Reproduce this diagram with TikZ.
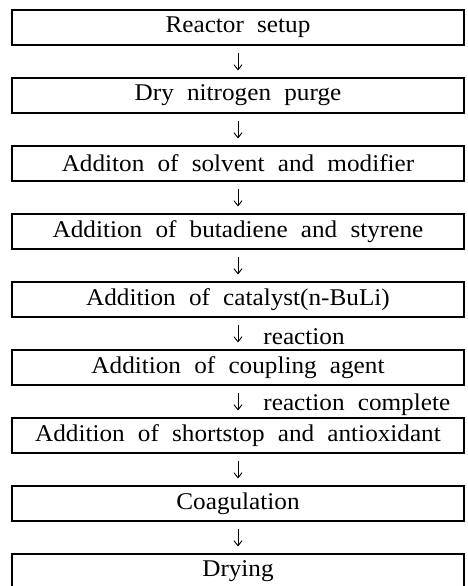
\documentclass[tikz,border=0pt]{standalone}
\usepackage{fontspec}
\setmainfont[FakeStretch=1.05, WordSpace=2.1]{Liberation Serif}
\usetikzlibrary{arrows.meta}

\begin{document}
\begin{tikzpicture}[x=1pt, y=-1pt,
    etape/.style={draw, line width=1.1pt, minimum width=452pt, minimum height=35pt, inner sep=0pt, font=\fontsize{24}{28}\selectfont},
    fleche/.style={line width=0.9pt, -{Straight Barb[length=5pt, width=8pt]}, shorten <=7pt, shorten >=7pt},
    remarque/.style={right, xshift=25pt, yshift=-3pt, inner sep=0pt, font=\fontsize{24}{28}\selectfont}]
                \useasboundingbox (0,0) rectangle (468,586);
                \clip (0,0) rectangle (468,586);

                \node[etape] (e1) at (238, 27.5) {Reactor setup};
                \node[etape] (e2) at (238, 95.5) {Dry nitrogen purge};
                \node[etape] (e3) at (238,163.5) {Additon of solvent and modifier};
                \node[etape] (e4) at (238,231.5) {Addition of butadiene and styrene};
                \node[etape] (e5) at (238,299.5) {Addition of catalyst(n-BuLi)};
                \node[etape] (e6) at (238,367.5) {Addition of coupling agent};
                \node[etape] (e7) at (238,435.5) {Addition of shortstop and antioxidant};
                \node[etape] (e8) at (238,503.5) {Coagulation};
                \node[etape] (e9) at (238,571.5) {Drying};

                \draw[fleche] (e1) -- (e2);
                \draw[fleche] (e2) -- (e3);
                \draw[fleche] (e3) -- (e4);
                \draw[fleche] (e4) -- (e5);
                % etapes avec reaction
                \draw[fleche] (e5) -- node[remarque] {reaction} (e6);
                \draw[fleche] (e6) -- node[remarque] {reaction complete} (e7);
                \draw[fleche] (e7) -- (e8);
                \draw[fleche] (e8) -- (e9);
            \end{tikzpicture}
\end{document}
